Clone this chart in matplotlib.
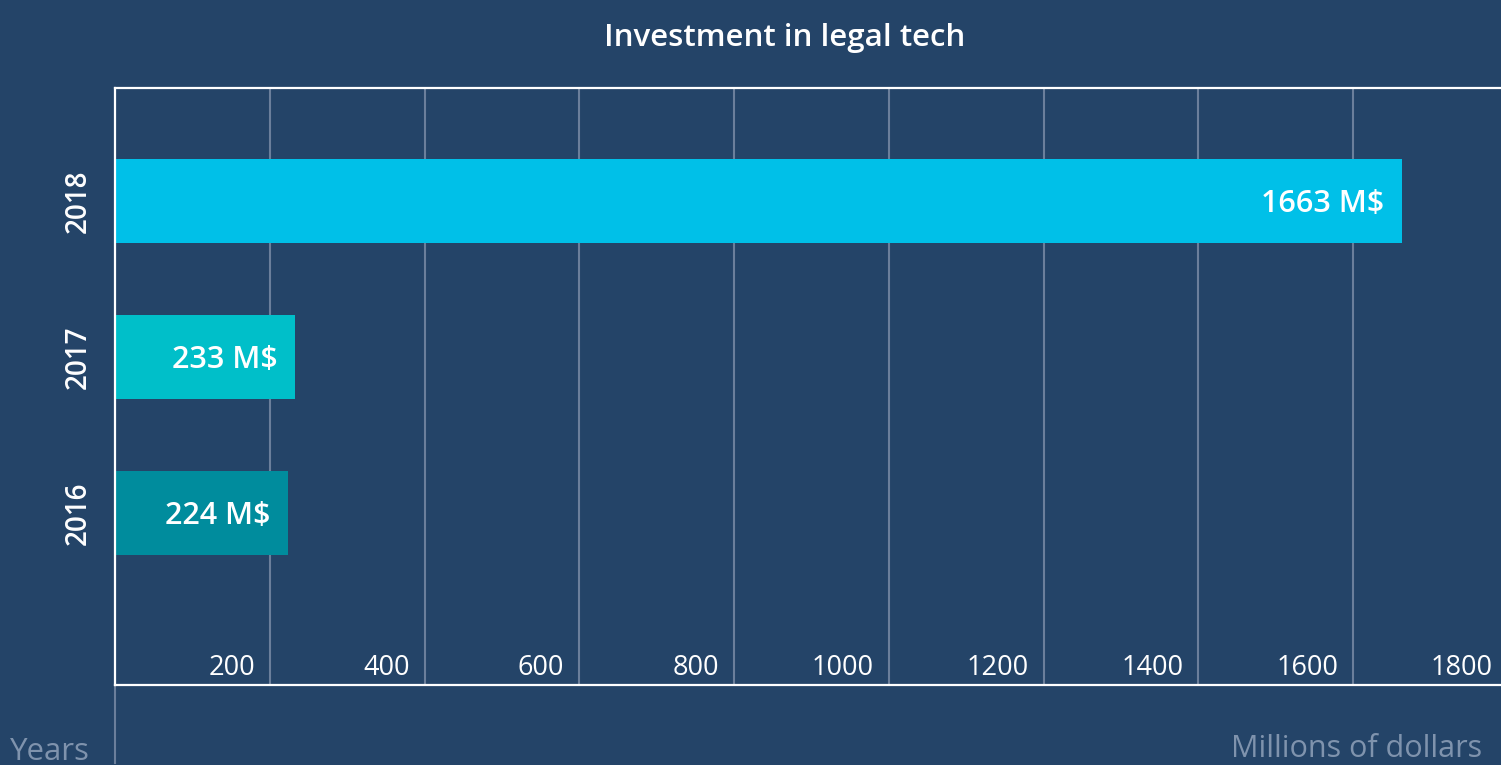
import matplotlib.pyplot as plt
from matplotlib.transforms import offset_copy, blended_transform_factory

years = ["2016", "2017", "2018"]
investment = [224, 233, 1663]
bar_colors = ["#008C9D", "#00BFC9", "#00C0E8"]
x_ticks = [200, 400, 600, 800, 1000, 1200, 1400, 1600, 1800]

BG = "#244468"
GRID = "#6B7F9B"
MUTED = "#7F93AD"

plt.rcParams['font.family'] = ['Open Sans', 'DejaVu Sans']

fig = plt.figure(figsize=(15.01, 7.65), dpi=100, facecolor=BG)
W, H = 1501, 765
ax = fig.add_axes([115 / W, 80 / H, (1508 - 115) / W, (685 - 88) / H])
ax.set_facecolor(BG)

ax.set_xlim(0, 1800)
ax.set_ylim(-1.1, 2.724)

ypos = list(range(len(years)))
ax.barh(ypos, investment, height=0.54, color=bar_colors, zorder=2)

# vertical grid lines
for v in x_ticks:
    ax.axvline(v, color=GRID, lw=1.5, zorder=1)

# value labels inside bar ends, baseline set so the digits sit centred
for y, v in zip(ypos, investment):
    t = offset_copy(ax.transData, fig=fig, x=-18, y=-11, units='dots')
    ax.text(v, y, f"{v} M$", transform=t, ha='right', va='baseline',
            color='white', fontsize=22, fontweight='semibold', zorder=3)

# tick labels sit inside the plot, left of each grid line
trans_x = blended_transform_factory(ax.transData, ax.transAxes)
for v in x_ticks:
    t = offset_copy(trans_x, fig=fig, x=-15, y=10, units='dots')
    ax.text(v, 0, str(v), transform=t, ha='right', va='baseline',
            color='white', fontsize=19.5, fontweight='normal')

ax.set_xticks([])
ax.set_yticks(ypos)
ax.set_yticklabels(years, rotation=90, va='center', color='white',
                   fontsize=20, fontweight='semibold')
ax.tick_params(axis='y', length=0, pad=16)

for side in ['left', 'top', 'bottom', 'right']:
    ax.spines[side].set_color('white')
    ax.spines[side].set_linewidth(1.6)

# thin extension of the y axis down to the axis captions
ax.plot([0, 0], [0, -0.13], transform=ax.transAxes, color=GRID,
        lw=1.5, clip_on=False)

fig.text(784.5 / W, 1 - 46 / H, "Investment in legal tech",
         ha='center', va='baseline', color='white', fontsize=22.5, fontweight='semibold')
fig.text(10 / W, 1 - 760 / H, "Years", ha='left', va='baseline',
         color=MUTED, fontsize=22.5, fontweight='normal')
fig.text(1482 / W, 1 - 757 / H, "Millions of dollars", ha='right', va='baseline',
         color=MUTED, fontsize=22, fontweight='normal')

fig.savefig("out.png", dpi=100, facecolor=BG)
